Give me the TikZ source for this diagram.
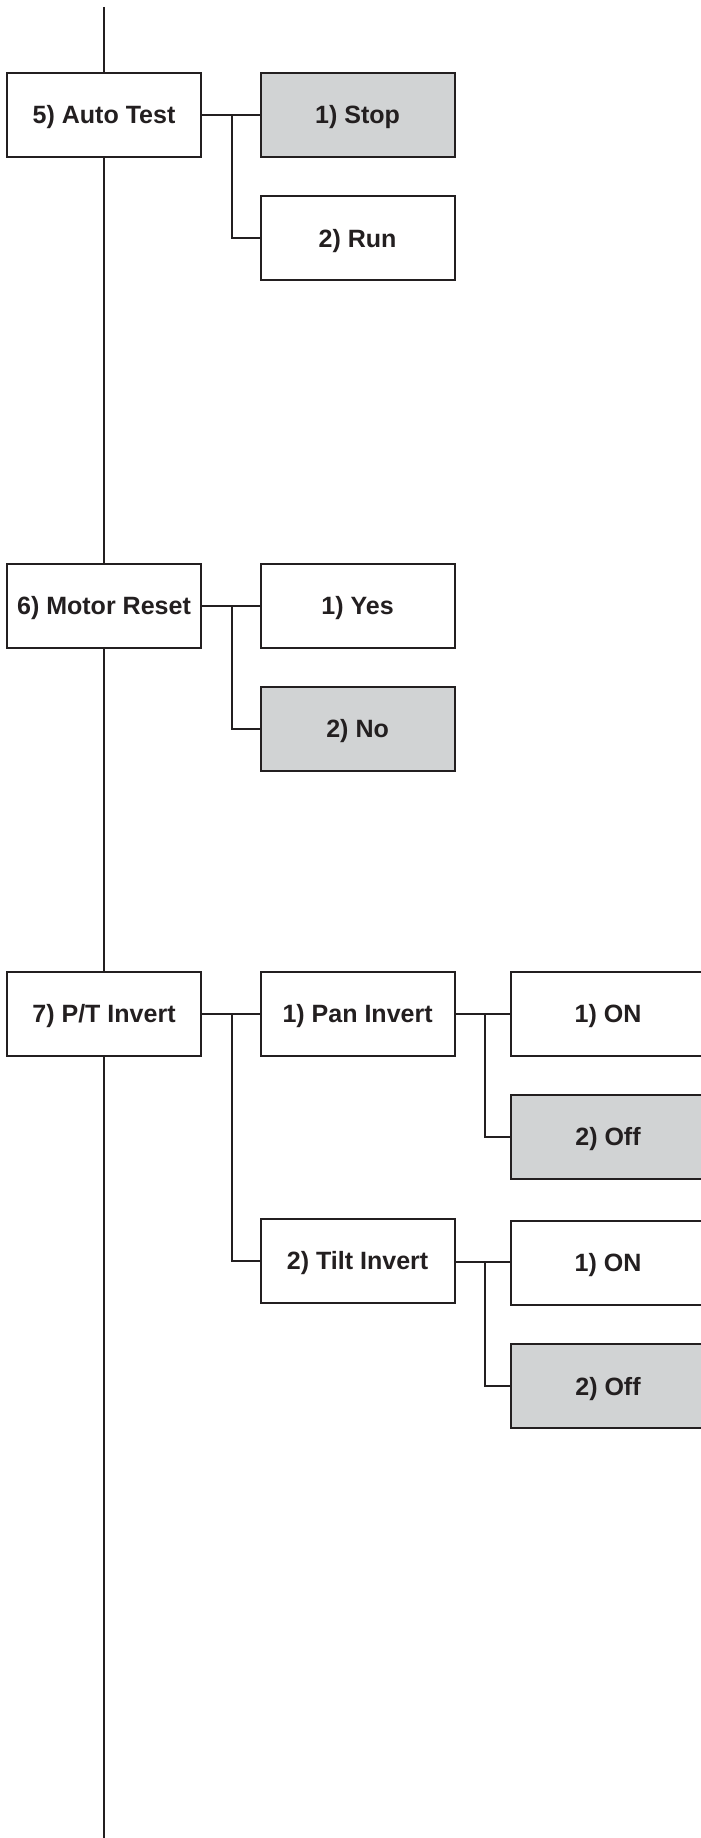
\documentclass[tikz,border=0pt]{standalone}
\usepackage{fontspec}
\setmainfont{Liberation Sans}
\usepackage{xcolor}
\definecolor{cInk}{HTML}{231F20}
\definecolor{cSel}{HTML}{D1D3D4}

\begin{document}
\begin{tikzpicture}[x=1cm, y=1cm,
  menu/.style={draw=cInk, line width=1.4pt, fill=white, text=cInk, inner sep=0pt, outer sep=0pt,
    minimum width=4.85cm, minimum height=2.1cm, text height=12.4pt, text depth=0pt,
    font=\fontsize{17.8}{20}\selectfont\bfseries},
  chosen/.style={menu, fill=cSel},
  link/.style={draw=cInk, line width=1.3pt}]
\useasboundingbox (0,0) rectangle (17.525,45.95);
\clip (0,0) rectangle (17.525,45.95);
% ---- main column (x 2.60) ------------------------------------------------------------
\coordinate (top) at (2.60,45.775);
\coordinate (bot) at (2.60,0);
\node[menu] (auto)  at (2.60,43.075) {5) Auto Test};
\node[menu] (motor) at (2.60,30.80)  {6) Motor Reset};
\node[menu] (pt)    at (2.60,20.61)  {7) P/T Invert};
\draw[link] (top) -- (auto);
\draw[link] (auto) -- (motor);
\draw[link] (motor) -- (pt);
\draw[link] (pt) -- (bot);
% ---- second column (x 8.94) ----------------------------------------------------------
\node[chosen] (stop) at (8.94,43.075) {1) Stop};
\node[menu]   (run)  at (8.94,39.99)  {2) Run};
\node[menu]   (yes)  at (8.94,30.80)  {1) Yes};
\node[chosen] (no)   at (8.94,27.725) {2) No};
\node[menu]   (pan)  at (8.94,20.61)  {1) Pan Invert};
\node[menu]   (tilt) at (8.94,14.425) {2) Tilt Invert};
% ---- third column (x 15.20, runs off the page) ---------------------------------------
\node[menu]   (panon)   at (15.20,20.61)  {1) ON};
\node[chosen] (panoff)  at (15.20,17.525) {2) Off};
\node[menu]   (tilton)  at (15.20,14.375) {1) ON};
\node[chosen] (tiltoff) at (15.20,11.29)  {2) Off};
% ---- branches --------------------------------------------------------------------------
\coordinate (jauto)  at (5.80,43.075);
\coordinate (jmotor) at (5.80,30.80);
\coordinate (jpt)    at (5.80,20.61);
\coordinate (jpan)   at (12.125,20.61);
\coordinate (jtilt)  at (12.125,14.40);
\draw[link] (auto) -- (stop);
\draw[link] (jauto) |- (run.west);
\draw[link] (motor) -- (yes);
\draw[link] (jmotor) |- (no.west);
\draw[link] (pt) -- (pan);
\draw[link] (jpt) |- (tilt.west);
\draw[link] (pan) -- (panon);
\draw[link] (jpan) |- (panoff.west);
\draw[link] (tilt.east |- jtilt) -- (tilton.west |- jtilt);
\draw[link] (jtilt) |- (tiltoff.west);
\end{tikzpicture}
\end{document}
